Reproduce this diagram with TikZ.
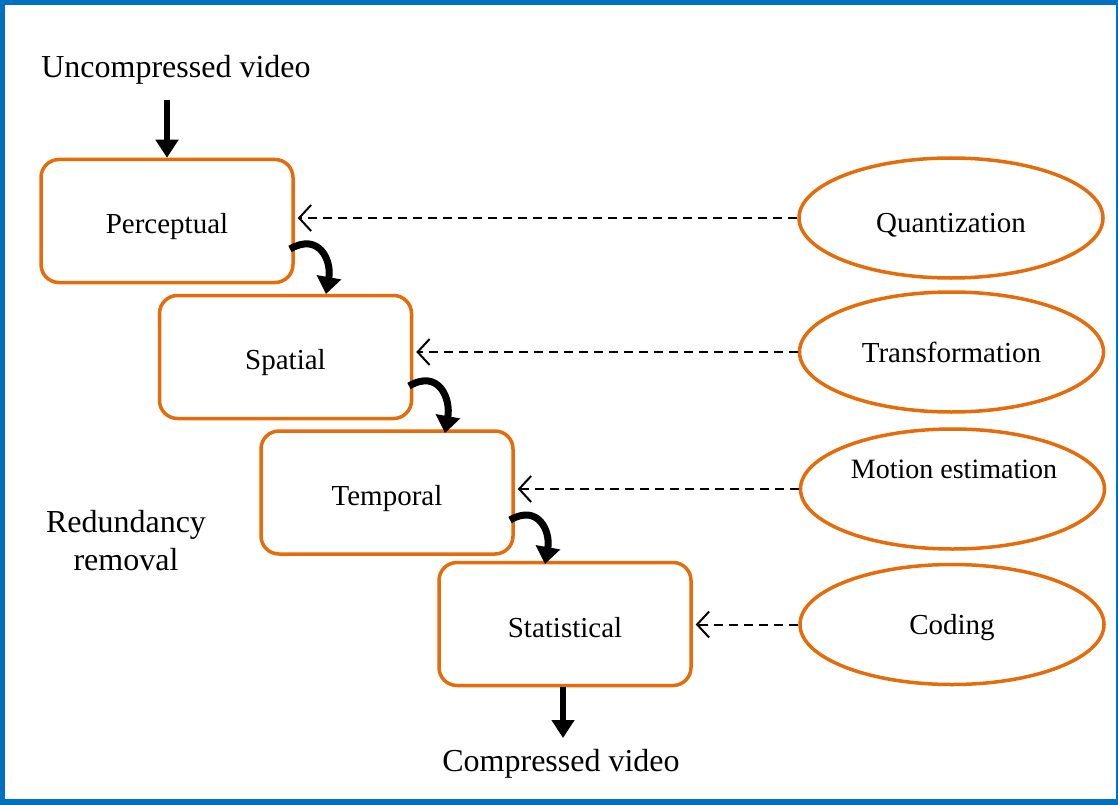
\documentclass[tikz,border=0pt]{standalone}
\usepackage{fontspec}
\setmainfont{Liberation Serif}
\usetikzlibrary{arrows.meta,shapes.geometric}
\definecolor{borange}{RGB}{228,108,10}
\definecolor{bblue}{RGB}{0,112,192}
\begin{document}
\begin{tikzpicture}[x=1pt,y=-1pt,
  stagebox/.style={draw=borange,line width=3.5pt,rounded corners=18pt,minimum width=252pt,minimum height=123pt,inner sep=0pt,text height=32pt,text depth=7pt,font=\fontsize{29}{34}\selectfont},
  tech/.style={ellipse,draw=borange,line width=3.5pt,minimum width=304pt,minimum height=120pt,inner sep=0pt,font=\fontsize{29}{34}\selectfont},
  label/.style={font=\fontsize{32}{38}\selectfont,inner sep=0pt},
  feed/.style={dashed,dash pattern=on 9pt off 6pt,line width=2pt,-{Straight Barb[length=12pt,width=26pt,line width=2pt]}},
  flow/.style={line width=6pt,-{Triangle[length=18pt,width=22pt]}},
  turn/.style={line width=7pt,-{Triangle[length=17pt,width=24pt]}}]
\useasboundingbox (0,0) rectangle (1118,805);
\fill[white] (0,0) rectangle (1118,805);
\draw[bblue,line width=5pt] (2.5,0) -- (2.5,805);
\draw[bblue,line width=5pt] (0,2.5) -- (1118,2.5);
\draw[bblue,line width=6pt] (0,802) -- (1118,802);
\draw[bblue,line width=2pt] (1117,0) -- (1117,805);

\node[stagebox] (p) at (167,221) {Perceptual};
\node[stagebox] (s) at (285.5,357) {Spatial};
\node[stagebox] (t) at (387,492.5) {Temporal};
\node[stagebox,text height=34pt] (st) at (565,624) {Statistical};

\node[tech,text height=34pt,text depth=6pt] (q) at (951,218) {Quantization};
\node[tech] (tr) at (951.5,352) {Transformation};
\node[tech] (m) at (952.5,489) {};
\node[font=\fontsize{28}{34}\selectfont] (mt) at (954,469) {Motion estimation};
\node[tech,text height=26pt,text depth=6pt] (c) at (952,624.5) {Coding};

\node[label] (in) at (176,70) {Uncompressed video};
\node[label] (out) at (561,764) {Compressed video};
\node[label,align=center] (rr) at (126,541) {Redundancy\\removal};

\coordinate (inend) at (167,100);
\coordinate (outend) at (563,738);
\draw[flow] (inend) -- (inend |- p.north);
\draw[flow] (outend |- st.south) -- (outend);

\draw[feed] (q.west) -- ([xshift=3pt]p.east |- q.west);
\draw[feed] (tr.west) -- ([xshift=3pt]s.east |- tr.west);
\draw[feed] (m.west) -- ([xshift=3pt]t.east |- m.west);
\draw[feed] (c.west) -- ([xshift=3pt]st.east |- c.west);

\coordinate (a1) at (290,249);
\coordinate (b1) at (326,294);
\coordinate (a2) at (409,386);
\coordinate (b2) at (445,433);
\coordinate (a3) at (510,520);
\coordinate (b3) at (545,564);
\draw[turn] (a1) to[out=30,in=80,looseness=1.5] (b1);
\draw[turn] (a2) to[out=30,in=80,looseness=1.5] (b2);
\draw[turn] (a3) to[out=30,in=80,looseness=1.5] (b3);
\end{tikzpicture}
\end{document}
